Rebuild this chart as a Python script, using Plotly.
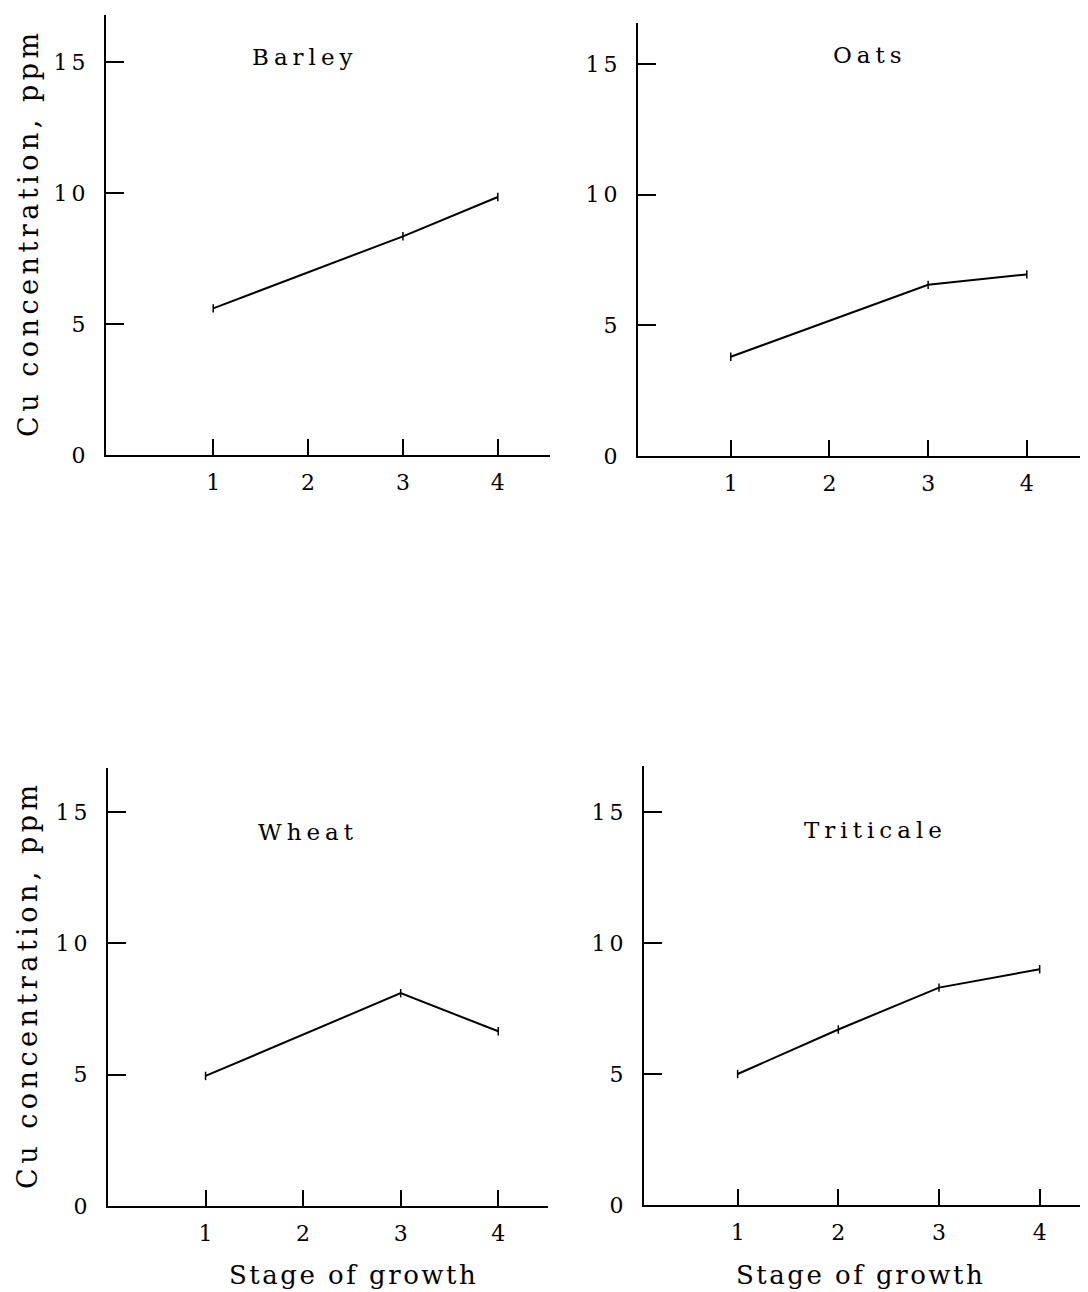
import plotly.graph_objects as go

# ---- data ----
crops = ["Barley", "Oats", "Wheat", "Triticale"]
barley_stage = [1, 3, 4]
barley_cu = [5.6, 8.35, 9.85]
oats_stage = [1, 3, 4]
oats_cu = [3.8, 6.55, 6.95]
wheat_stage = [1, 3, 4]
wheat_cu = [4.95, 8.1, 6.65]
triticale_stage = [1, 2, 3, 4]
triticale_cu = [5.0, 6.7, 8.3, 9.0]
x_ticks = [1, 2, 3, 4]
y_ticks = [0, 5, 10, 15]
y_title = "Cu concentration, ppm"
x_title = "Stage of growth"

OFF = 8  # default page body margin
W, H = 1088 - OFF, 1292 - OFF
FONT = "DejaVu Serif"

def px_x(p):
    return (p - OFF) / W

def px_y(p):
    return 1 - (p - OFF) / H

def ls(t, sp=2):
    return f'<span style="letter-spacing:{sp}px">{t}</span>'

series = [(barley_stage, barley_cu), (oats_stage, oats_cu),
          (wheat_stage, wheat_cu), (triticale_stage, triticale_cu)]

# panel pixel boxes (screen px): left, right, top, bottom ; x range ; y range top ; title centre
panels = [
    dict(l=106, r=550, t=15, b=455, xr=[-0.13, 4.55], yt=16.8, tc=(305, 57)),
    dict(l=638, r=1088, t=23, b=456, xr=[0.06, 4.62], yt=16.57, tc=(870, 55)),
    dict(l=108, r=548, t=768, b=1206, xr=[0.0, 4.51], yt=16.67, tc=(308, 832)),
    dict(l=644, r=1088, t=766, b=1205, xr=[0.07, 4.48], yt=16.76, tc=(875, 830)),
]

fig = go.Figure()
layout = dict(width=W, height=H, margin=dict(l=0, r=0, t=0, b=0),
              plot_bgcolor="white", paper_bgcolor="white", showlegend=False,
              font=dict(family=FONT, color="black", size=20))
annotations = []
for i, (p, (xs, ys), name) in enumerate(zip(panels, series, crops)):
    n = "" if i == 0 else str(i + 1)
    fig.add_trace(go.Scatter(x=xs, y=ys, mode="lines+markers",
                             line=dict(color="black", width=2),
                             marker=dict(symbol="line-ns", size=6,
                                         line=dict(color="black", width=1.5)),
                             xaxis="x" + n, yaxis="y" + n, cliponaxis=False))
    layout["xaxis" + n] = dict(domain=[px_x(p["l"]), px_x(p["r"])], range=p["xr"],
                               anchor="y" + n, tickvals=x_ticks,
                               ticktext=[str(v) for v in x_ticks],
                               ticks="inside", ticklen=16, tickwidth=2, tickcolor="black",
                               showline=True, linecolor="black", linewidth=2,
                               showgrid=False, zeroline=False, ticklabelstandoff=7,
                               automargin=False,
                               tickfont=dict(size=22, family=FONT, color="black"))
    layout["yaxis" + n] = dict(domain=[px_y(p["b"]), px_y(p["t"])], range=[0, p["yt"]],
                               anchor="x" + n, tickvals=y_ticks,
                               ticktext=[ls(str(v), 4) for v in y_ticks],
                               ticks="inside", ticklen=18, tickwidth=1.5, tickcolor="black",
                               showline=True, linecolor="black", linewidth=2,
                               showgrid=False, zeroline=False, ticklabelstandoff=10,
                               automargin=False,
                               tickfont=dict(size=22, family=FONT, color="black"))
    annotations.append(dict(text=ls(name, 5), x=px_x(p["tc"][0]), y=px_y(p["tc"][1]),
                            xref="paper", yref="paper", showarrow=False,
                            xanchor="center", yanchor="middle",
                            font=dict(size=23, family=FONT, color="black")))

# y-axis titles (rotated)
for yc in (233, 985):
    annotations.append(dict(text=ls(y_title, 4.5), x=px_x(28), y=px_y(yc), xref="paper", yref="paper",
                            showarrow=False, textangle=-90, xanchor="center", yanchor="middle",
                            font=dict(size=27, family=FONT, color="black")))
# x-axis titles
for xc in (353, 860):
    annotations.append(dict(text=ls(x_title, 2.5), x=px_x(xc), y=px_y(1275), xref="paper", yref="paper",
                            showarrow=False, xanchor="center", yanchor="middle",
                            font=dict(size=26, family=FONT, color="black")))
layout["annotations"] = annotations
fig.update_layout(**layout)
fig.write_html("out.html")
